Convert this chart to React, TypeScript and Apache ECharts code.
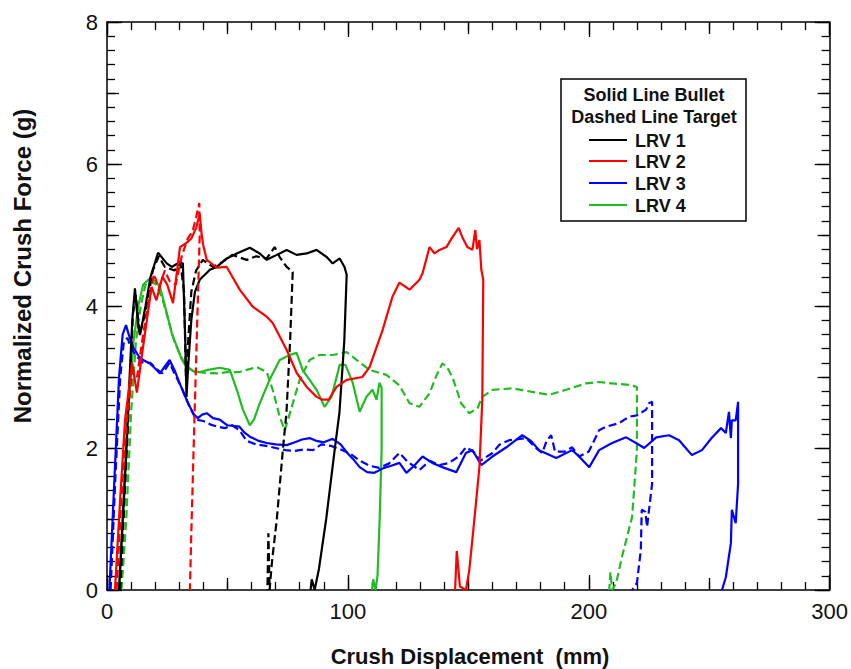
import React, { useEffect, useRef } from "react";
import * as echarts from "echarts";

// ---- Axis settings / tick labels ----
const xTickValues = [0, 100, 200, 300];
const xTickLabels = ["0", "100", "200", "300"];
const yTickValues = [0, 2, 4, 6, 8];
const yTickLabels = ["0", "2", "4", "6", "8"];

const xTitle = "Crush Displacement  (mm)";
const yTitle = "Normalized Crush Force (g)";

const legendHeader = ["Solid Line Bullet", "Dashed Line Target"];
const legendNames = ["LRV 1", "LRV 2", "LRV 3", "LRV 4"];
const legendColors = ["#000000", "#ff0000", "#0000ff", "#22bb22"];

// ---- Data: [displacement (mm), force (g)] ----
const lrv1Bullet = [
  [5, 0], [8, 2.0], [10.5, 3.8], [11.6, 4.25], [13, 3.7], [13.7, 3.59], [16, 4.0], [18, 4.4],
  [21.2, 4.75], [24.8, 4.6], [26.9, 4.55], [30.3, 4.62], [31.5, 4.6], [32.5, 3.5], [33, 2.72],
  [33.8, 3.2], [35, 3.8], [36.5, 4.2], [38.5, 4.37], [42.7, 4.51], [45.6, 4.55], [49.7, 4.67],
  [53.9, 4.74], [59.3, 4.82], [63.4, 4.74], [66.3, 4.65], [70.5, 4.72], [74.6, 4.79], [78.7, 4.72],
  [82.9, 4.74], [87, 4.79], [91.2, 4.69], [93.7, 4.6], [96.6, 4.67], [98.6, 4.55], [99.5, 4.44],
  [98.5, 3.5], [96.5, 2.5], [94.5, 1.97], [91, 1.0], [88, 0.3], [86.2, 0], [85, 0.15], [84.5, 0],
];
const lrv1Target = [
  [5.5, 0], [8, 1.8], [10.8, 3.9], [12, 4.15], [13.5, 3.6], [16, 3.9], [19, 4.5], [21.5, 4.7],
  [24, 4.55], [28, 4.5], [30.5, 4.6], [32, 4.2], [32.8, 2.95], [33.5, 3.4], [35, 4.2], [37, 4.5],
  [39.8, 4.65], [44, 4.55], [48, 4.62], [52, 4.72], [58, 4.65], [62, 4.7], [66.3, 4.67],
  [69.6, 4.83], [71.7, 4.69], [74.6, 4.55], [77.1, 4.48], [76, 3.5], [74.5, 2.5], [73, 1.97],
  [70.5, 1.0], [68.5, 0.4], [67.5, 0], [67.0, 0.8], [66.6, 0],
];
const lrv2Bullet = [
  [3.3, 0], [5.5, 1.3], [7.5, 2.4], [10.4, 3.2], [12.4, 2.78], [15, 3.43], [18.5, 4.27],
  [20.5, 4.08], [23, 4.41], [25, 4.3], [27.4, 4.04], [30.3, 4.83], [33, 4.89], [35, 4.95],
  [37, 5.1], [38.5, 5.3], [39.3, 5.0], [40, 4.85], [41.4, 4.65], [45.6, 4.54], [49.7, 4.55],
  [55.1, 4.23], [60.5, 3.99], [66.3, 3.85], [68.8, 3.76], [74.6, 3.38], [78.7, 3.06],
  [82.9, 2.86], [87, 2.72], [89.5, 2.68], [92, 2.68], [95.3, 2.86], [99.5, 2.96], [106, 3.0],
  [109, 3.14], [114.4, 3.66], [118.5, 4.13], [121.4, 4.33], [125.6, 4.23], [129.7, 4.37],
  [131, 4.46], [133.9, 4.83], [136, 4.74], [138, 4.79], [140.9, 4.83], [143.4, 4.97], [146, 5.1],
  [147.5, 4.97], [149.6, 4.83], [151.7, 4.79], [152.9, 5.07], [153.6, 4.8], [154.6, 4.93],
  [155.4, 4.51], [156.2, 4.37], [155.8, 2.68], [154.6, 1.73], [152.5, 0.99], [150.4, 0.28],
  [149, 0], [146.5, 0.05], [145.2, 0.55], [144.5, 0],
];
const lrv2Target = [
  [4, 0], [6, 1.3], [8, 2.3], [10.5, 3.1], [12.5, 3.0], [15, 3.6], [17.5, 4.1], [19.5, 4.45],
  [21.5, 4.25], [24, 4.5], [26, 4.35], [28.5, 4.3], [31, 4.7], [33.5, 4.95], [35.5, 5.05],
  [37, 5.25], [38.3, 5.45], [38.5, 5.0], [37.8, 4.2], [36.8, 3.0], [35.8, 1.8], [35, 0.8],
  [34.4, 0],
];
const lrv3Bullet = [
  [1, 0], [3, 1.5], [5, 3.0], [6.5, 3.6], [7.9, 3.73], [9, 3.6], [10.8, 3.42], [13, 3.3],
  [15, 3.24], [17.8, 3.19], [20, 3.12], [22, 3.05], [24, 3.15], [26, 3.24], [28, 3.1],
  [30.3, 2.9], [32.5, 2.72], [34.4, 2.58], [36, 2.48], [37.7, 2.42], [39.5, 2.47], [41.4, 2.49],
  [44, 2.42], [46.8, 2.4], [50, 2.32], [55, 2.3], [57, 2.22], [59.3, 2.16], [63, 2.1],
  [66.3, 2.07], [70, 2.05], [74.6, 2.04], [78, 2.08], [81, 2.12], [84.1, 2.14], [87, 2.1],
  [90, 2.08], [93.7, 2.13], [97, 2.05], [99.5, 1.94], [102, 1.85], [104.9, 1.73], [108, 1.66],
  [111, 1.65], [115, 1.72], [118, 1.75], [121.4, 1.79], [124.3, 1.65], [127.5, 1.75], [131, 1.88],
  [135, 1.79], [140, 1.72], [145, 1.66], [149, 1.93], [151.7, 1.97], [155.4, 1.76], [160, 1.88],
  [165.8, 2.01], [172.4, 2.18], [176, 2.1], [179.4, 1.97], [186.5, 1.86], [193.1, 1.97],
  [196, 1.88], [200.2, 1.73], [204.3, 1.97], [209.7, 2.07], [215.5, 2.15], [219.6, 2.07],
  [223, 2.0], [228, 2.15], [233.3, 2.18], [237.5, 2.11], [242.8, 1.9], [247, 1.97], [251, 2.14],
  [254.9, 2.28], [256.9, 2.21], [258.2, 2.51], [259, 2.14], [259.4, 2.39], [261, 2.39],
  [262, 2.65], [262, 1.5], [261, 0.94], [259.4, 1.13], [259, 0.66], [256.9, 0.18], [255.3, 0],
];
const lrv3Target = [
  [1.5, 0], [3.5, 1.6], [5.5, 3.0], [7, 3.5], [8.5, 3.55], [10, 3.4], [12, 3.3], [15, 3.2],
  [18, 3.2], [21, 3.1], [23, 3.05], [26, 3.2], [28, 3.05], [31, 2.85], [34, 2.6], [37, 2.4],
  [40, 2.38], [43, 2.33], [46, 2.3], [49, 2.28], [52, 2.32], [55, 2.25], [58, 2.1], [62, 2.05],
  [66, 2.03], [70, 2.0], [74, 1.97], [78, 1.96], [82, 1.98], [85.5, 1.97], [89, 2.05], [93, 2.03],
  [97, 1.98], [101, 1.92], [105, 1.82], [109, 1.75], [113, 1.72], [117, 1.78], [121.4, 1.93],
  [125, 1.8], [129.7, 1.69], [134, 1.82], [138, 1.76], [142, 1.79], [146, 1.88], [149, 2.01],
  [152, 1.95], [155, 1.82], [160, 1.93], [163, 2.05], [167, 2.11], [174, 2.14], [178, 2.0],
  [180.7, 1.93], [182.5, 2.1], [184.4, 2.18], [186, 1.95], [190, 1.95], [193.1, 2.01], [196, 1.88],
  [200, 1.95], [204.3, 2.25], [207.2, 2.3], [212.6, 2.35], [216.7, 2.44], [220, 2.46],
  [223.8, 2.54], [225, 2.63], [226.3, 2.65], [226.3, 1.5], [224.2, 0.89], [223.5, 1.1],
  [222, 1.13], [221.6, 0.56], [220, 0.1], [218, 0],
];
const lrv4Bullet = [
  [5, 0], [7, 1.2], [9, 2.6], [11, 3.5], [13, 4.0], [15, 4.3], [17.8, 4.39], [20, 4.35],
  [22, 4.27], [24.8, 3.9], [27, 3.6], [29, 3.43], [31, 3.25], [33, 3.14], [36, 3.08],
  [38.5, 3.07], [42, 3.1], [46.8, 3.13], [51, 3.1], [53.9, 2.82], [56.4, 2.54], [59.3, 2.32],
  [61, 2.4], [63.4, 2.63], [67.5, 2.96], [71.7, 3.24], [75.8, 3.31], [78.7, 3.34], [81.2, 3.1],
  [84.1, 2.96], [87, 2.82], [90.3, 2.58], [93.2, 2.72], [96.6, 3.17], [99, 3.17], [102, 2.92],
  [104.9, 2.51], [107.7, 2.72], [110.2, 2.82], [111.9, 2.68], [113.1, 2.92], [114, 2.85],
  [114, 1.97], [113.2, 1.0], [112.3, 0.2], [111.5, 0], [110.5, 0.15], [110, 0],
];
const lrv4Target = [
  [6, 0], [8, 1.0], [10, 2.5], [12, 3.5], [14, 4.0], [16, 4.3], [18, 4.35], [20.5, 4.3],
  [23, 4.1], [25.5, 3.8], [28, 3.5], [30.5, 3.3], [33, 3.15], [36, 3.08], [40, 3.06], [46, 3.05],
  [50, 3.07], [55, 3.07], [58, 3.1], [62.2, 3.14], [66.3, 3.07], [68.8, 2.82], [71.7, 2.44],
  [73.8, 2.25], [76.7, 2.58], [80, 2.96], [84.1, 3.24], [88.3, 3.31], [93.7, 3.31], [99.5, 3.35],
  [103.6, 3.24], [109, 3.1], [116, 3.03], [121.4, 2.88], [125.6, 2.63], [129.7, 2.58],
  [133.9, 2.77], [136.5, 3.0], [139.2, 3.19], [141, 3.15], [143.4, 3.0], [147, 2.63],
  [150.4, 2.49], [153.8, 2.56], [155.8, 2.72], [160, 2.82], [168.3, 2.84], [176.5, 2.79],
  [183.6, 2.75], [190.6, 2.82], [198.9, 2.91], [204.3, 2.93], [209.7, 2.91], [216.7, 2.89],
  [220, 2.86], [220, 1.97], [218, 1.03], [213.8, 0.47], [211.4, 0.1], [209.7, 0], [209, 0.25],
  [208.5, 0],
];

const FONT = '"Liberation Sans", Arial, Helvetica, sans-serif';

export default function App() {
  const ref = useRef<HTMLDivElement>(null);

  useEffect(() => {
    if (!ref.current) return;
    const chart = echarts.init(ref.current, undefined, { renderer: "svg" });

    const mkX = (position: string, interval: number, tickLen: number, main: boolean, labels: boolean) => ({
      type: "value",
      position,
      min: 0,
      max: 300,
      interval,
      axisLine: { show: main, onZero: false, lineStyle: { color: "#000", width: 1.5 } },
      axisTick: { show: true, inside: true, length: tickLen, lineStyle: { color: "#000", width: 1.3 } },
      minorTick: { show: main, splitNumber: 10, length: 8, lineStyle: { color: "#000", width: 1.3 } },
      splitLine: { show: false },
      minorSplitLine: { show: false },
      axisLabel: {
        show: labels,
        margin: 10,
        color: "#111",
        fontFamily: FONT,
        fontSize: 22,
        formatter: (v: number) => {
          const i = xTickValues.indexOf(v);
          return i >= 0 ? xTickLabels[i] : "";
        },
      },
    });
    const mkY = (position: string, interval: number, tickLen: number, main: boolean, labels: boolean) => ({
      type: "value",
      position,
      min: 0,
      max: 8,
      interval,
      axisLine: { show: main, onZero: false, lineStyle: { color: "#000", width: 1.5 } },
      axisTick: { show: true, inside: true, length: tickLen, lineStyle: { color: "#000", width: 1.3 } },
      minorTick: { show: main, splitNumber: 10, length: 8, lineStyle: { color: "#000", width: 1.3 } },
      splitLine: { show: false },
      minorSplitLine: { show: false },
      axisLabel: {
        show: labels,
        margin: 9,
        color: "#111",
        fontFamily: FONT,
        fontSize: 22,
        formatter: (v: number) => {
          const i = yTickValues.indexOf(v);
          return i >= 0 ? yTickLabels[i] : "";
        },
      },
    });

    const solid = (name: string, data: number[][], color: string) => ({
      name,
      type: "line",
      data,
      xAxisIndex: 0,
      yAxisIndex: 0,
      showSymbol: false,
      symbol: "none",
      smooth: false,
      clip: true,
      lineStyle: { color, width: 2.2, type: "solid" },
    });
    const dashed = (name: string, data: number[][], color: string) => ({
      ...solid(name, data, color),
      lineStyle: { color, width: 2.2, type: [8, 4] },
    });

    const legendRowsY = [140, 161, 183, 205];
    const centered = { align: "center", verticalAlign: "middle", textAlign: "center", textVerticalAlign: "middle" };
    const graphic: any[] = [
      {
        type: "rect",
        shape: { x: 561, y: 79, width: 185, height: 142 },
        style: { fill: "#fff", stroke: "#000", lineWidth: 1.5 },
        z: 100,
      },
      {
        type: "text", x: 654, y: 95, z: 101,
        style: { text: legendHeader[0], fill: "#111", font: `bold 18px ${FONT}`, ...centered },
      },
      {
        type: "text", x: 654, y: 117, z: 101,
        style: { text: legendHeader[1], fill: "#111", font: `bold 18px ${FONT}`, ...centered },
      },
      {
        type: "text", x: 22, y: 266, rotation: Math.PI / 2,
        style: { text: yTitle, fill: "#111", font: `bold 24px ${FONT}`, ...centered },
      },
      {
        type: "text", x: 470, y: 656,
        style: { text: xTitle, fill: "#111", font: `bold 22px ${FONT}`, ...centered },
      },
    ];
    legendNames.forEach((n, i) => {
      graphic.push({
        type: "line",
        z: 101,
        shape: { x1: 589, y1: legendRowsY[i], x2: 627, y2: legendRowsY[i] },
        style: { stroke: legendColors[i], lineWidth: 2 },
      });
      graphic.push({
        type: "text",
        x: 635,
        y: legendRowsY[i] + 1,
        z: 101,
        style: {
          text: n, fill: "#111", font: `bold 18px ${FONT}`,
          align: "left", verticalAlign: "middle", textAlign: "left", textVerticalAlign: "middle",
        },
      });
    });

    chart.setOption({
      animation: false,
      backgroundColor: "#fff",
      grid: { left: 107, right: 20, top: 22, bottom: 79, containLabel: false },
      xAxis: [
        mkX("bottom", 100, 15, true, true),
        mkX("bottom", 50, 12, false, false),
        mkX("top", 100, 15, true, false),
        mkX("top", 50, 12, false, false),
      ],
      yAxis: [
        mkY("left", 2, 15, true, true),
        mkY("left", 1, 12, false, false),
        mkY("right", 2, 15, true, false),
        mkY("right", 1, 12, false, false),
      ],
      graphic,
      series: [
        solid("LRV 4 Bullet", lrv4Bullet, legendColors[3]),
        dashed("LRV 4 Target", lrv4Target, legendColors[3]),
        solid("LRV 3 Bullet", lrv3Bullet, legendColors[2]),
        dashed("LRV 3 Target", lrv3Target, legendColors[2]),
        dashed("LRV 1 Target", lrv1Target, legendColors[0]),
        solid("LRV 1 Bullet", lrv1Bullet, legendColors[0]),
        dashed("LRV 2 Target", lrv2Target, legendColors[1]),
        solid("LRV 2 Bullet", lrv2Bullet, legendColors[1]),
      ],
    });

    return () => chart.dispose();
  }, []);

  return (
    <div
      ref={ref}
      style={{ position: "fixed", left: 0, top: 0, width: 851, height: 669, background: "#fff" }}
    />
  );
}
